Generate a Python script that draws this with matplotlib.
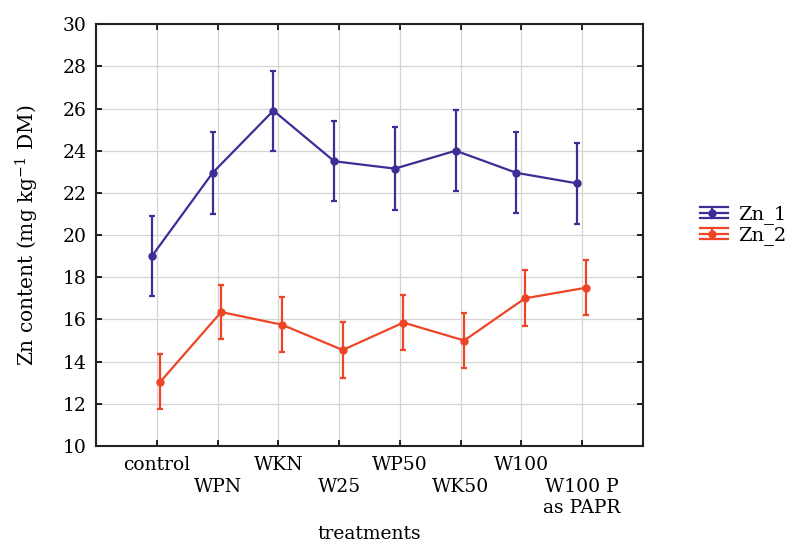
import matplotlib
matplotlib.use("Agg")
import matplotlib.pyplot as plt
import numpy as np
from matplotlib.legend_handler import HandlerBase
from matplotlib.lines import Line2D
from matplotlib.ticker import FixedLocator, FixedFormatter

categories = ["control", "WPN", "WKN", "W25", "WP50", "WK50", "W100", "W100 P\nas PAPR"]
zn1_mean = [19.0, 22.95, 25.9, 23.5, 23.15, 24.0, 22.95, 22.45]
zn1_err = [1.9, 1.95, 1.9, 1.9, 1.95, 1.92, 1.92, 1.93]
zn2_mean = [13.05, 16.35, 15.75, 14.55, 15.85, 15.0, 17.0, 17.5]
zn2_err = [1.3, 1.3, 1.3, 1.32, 1.3, 1.3, 1.32, 1.3]

plt.rcParams['font.family'] = ['DejaVu Serif']
plt.rcParams['font.size'] = 13

fig = plt.figure(figsize=(7.88, 5.45), dpi=100)
ax = fig.add_axes([0.1218, 0.1817, 0.694, 0.774])

x = np.arange(len(categories))
blue = "#3b2f95"
red = "#ef4526"
ax.errorbar(x - 0.08, zn1_mean, yerr=zn1_err, color=blue, marker='o', markersize=5,
            linewidth=1.6, elinewidth=1.6, capsize=2.5, capthick=1.6, zorder=3)
ax.errorbar(x + 0.06, zn2_mean, yerr=zn2_err, color=red, marker='o', markersize=5,
            linewidth=1.6, elinewidth=1.6, capsize=2.5, capthick=1.6, zorder=3)

ax.set_xlim(-1, 8)
ax.set_ylim(10, 30)
ax.set_yticks(np.arange(10, 31, 2))
ax.xaxis.set_major_locator(FixedLocator(x[0::2]))
ax.xaxis.set_major_formatter(FixedFormatter(categories[0::2]))
ax.xaxis.set_minor_locator(FixedLocator(x[1::2]))
ax.xaxis.set_minor_formatter(FixedFormatter(categories[1::2]))
for lab in ax.get_xticklabels(minor=True):
    lab.set_linespacing(1.25)
ax.grid(True, which='both', axis='x', color="#d4d4d4", linewidth=0.9, zorder=0)
ax.grid(True, which='major', axis='y', color="#d4d4d4", linewidth=0.9, zorder=0)
ax.set_axisbelow(True)
ax.tick_params(which='both', direction='in', top=True, right=True, length=4.5, width=1.2, labelsize=13.5)
ax.tick_params(axis='x', which='major', pad=7)
ax.tick_params(axis='x', which='minor', pad=23)
ax.tick_params(axis='y', pad=7)
for s in ax.spines.values():
    s.set_linewidth(1.5)
    s.set_color("#222222")

ax.set_xlabel("treatments", fontsize=13.5, va='center')
ax.xaxis.set_label_coords(0.5, -0.208)
ax.set_ylabel("Zn content (mg kg$^{\\mathregular{-1}}$ DM)", fontsize=14.5, labelpad=15)


class StatHandler(HandlerBase):
    def create_artists(self, legend, orig_handle, xdescent, ydescent, width, height, fontsize, trans):
        color = orig_handle.get_color()
        cy = height / 2 - ydescent
        d = height * 0.42
        arts = []
        for yy in (cy - d, cy, cy + d):
            arts.append(Line2D([-xdescent, -xdescent + width], [yy, yy], color=color, lw=1.6, transform=trans))
        arts.append(Line2D([-xdescent + width * 0.45] * 2, [cy - d, cy + d], color=color, lw=1.6, transform=trans))
        arts.append(Line2D([-xdescent + width * 0.45], [cy], color=color, marker='o', markersize=5, transform=trans))
        return arts


h1 = Line2D([], [], color=blue)
h2 = Line2D([], [], color=red)
leg = ax.legend([h1, h2], ["Zn_1", "Zn_2"], loc='center left', bbox_to_anchor=(1.104, 0.523), frameon=False,
                fontsize=14, handlelength=1.45, handletextpad=0.5, labelspacing=0.1,
                borderpad=0, borderaxespad=0, handler_map={Line2D: StatHandler()})

fig.savefig("out.png", dpi=100)
